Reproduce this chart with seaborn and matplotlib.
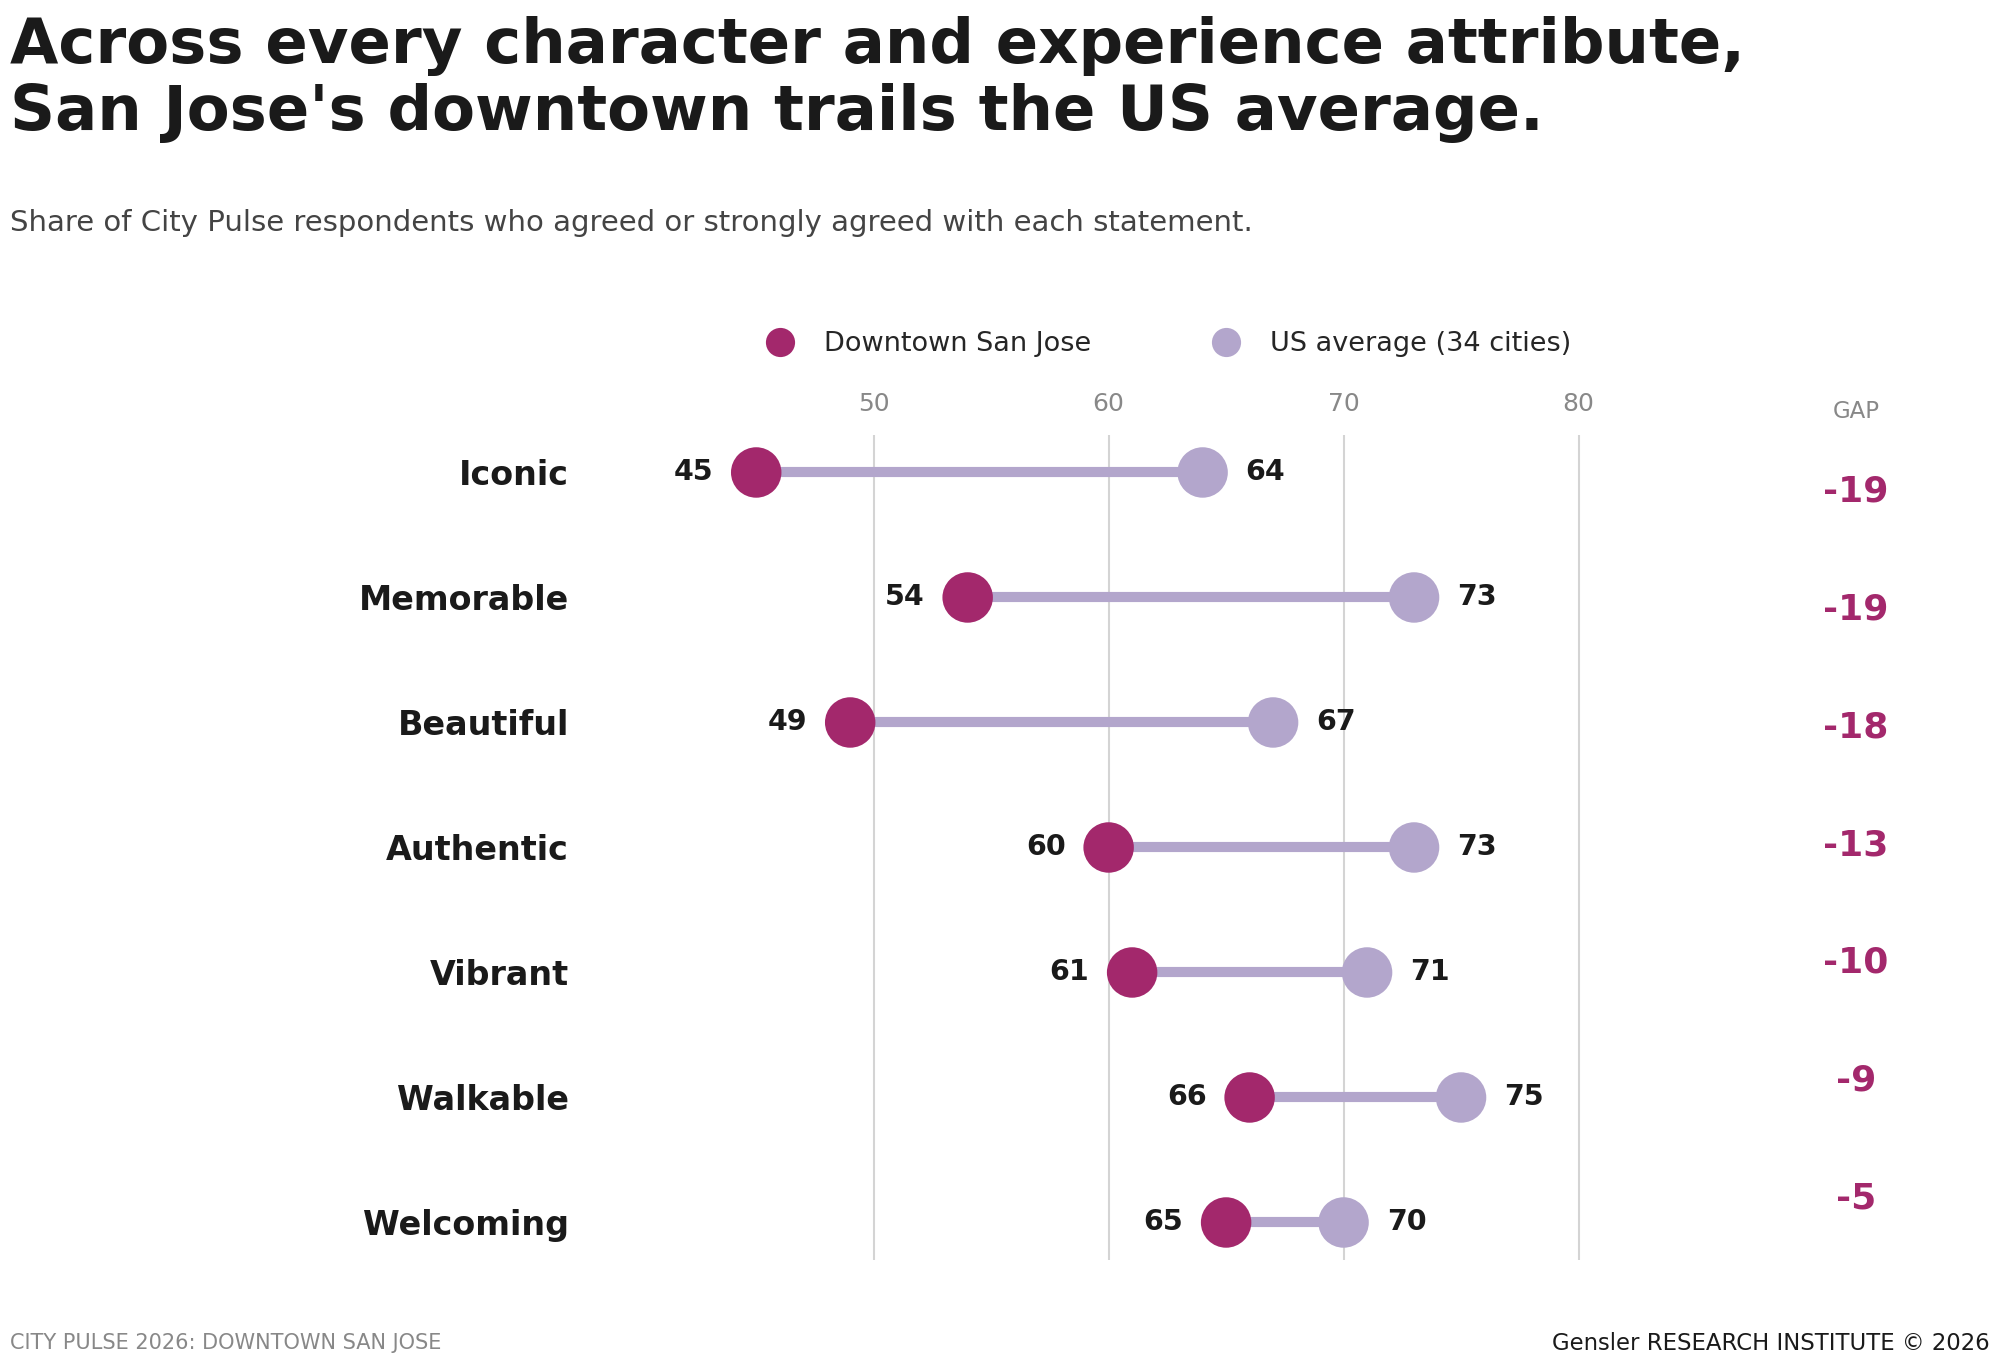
import pandas as pd
import matplotlib.pyplot as plt
import matplotlib.transforms as mtransforms
import seaborn as sns

# data
attributes = ["Iconic", "Memorable", "Beautiful", "Authentic", "Vibrant", "Walkable", "Welcoming"]
downtown = [45, 54, 49, 60, 61, 66, 65]
us_avg = [64, 73, 67, 73, 71, 75, 70]
x_ticks = [50, 60, 70, 80]
gaps = [d - u for d, u in zip(downtown, us_avg)]

MAGENTA = "#A3286C"
LAVENDER = "#B3A6CC"

sns.set_theme(style="white")
plt.rcParams["font.family"] = ["DejaVu Sans"]

df = pd.DataFrame({
    "attribute": attributes * 2,
    "value": downtown + us_avg,
    "group": ["Downtown San Jose"] * len(attributes) + ["US average (34 cities)"] * len(attributes),
})
df["row"] = df["attribute"].map({a: i for i, a in enumerate(attributes)})

fig = plt.figure(figsize=(20, 13.7), dpi=100)
ax = fig.add_axes([0.29, 0.0803, 0.558, 0.6022])

# connecting bars
ax.hlines(range(len(attributes)), downtown, us_avg, color=LAVENDER, linewidth=7.3, zorder=2)

sns.scatterplot(data=df, x="value", y="row", hue="group",
                palette=[MAGENTA, LAVENDER], s=1320, linewidth=0,
                ax=ax, zorder=3, legend=False)

for i, (d, u) in enumerate(zip(downtown, us_avg)):
    ax.annotate(str(d), (d, i), xytext=(-31, 0), textcoords="offset points",
                ha="right", va="center", fontsize=20.5, fontweight="bold", color="#1a1a1a")
    ax.annotate(str(u), (u, i), xytext=(31, 0), textcoords="offset points",
                ha="left", va="center", fontsize=20.5, fontweight="bold", color="#1a1a1a")

ax.set_xlim(37.5, 85)
ax.set_ylim(6.3, -0.3)
ax.set_xticks(x_ticks)
ax.xaxis.tick_top()
ax.tick_params(axis="x", length=0, pad=14, labelsize=18, labelcolor="#888888")
ax.set_yticks(range(len(attributes)))
ax.set_yticklabels(attributes, fontsize=24, fontweight="bold", color="#1a1a1a")
ax.tick_params(axis="y", length=0, pad=8)
ax.grid(axis="x", color="#d4d4d4", linewidth=1.5)
ax.grid(axis="y", visible=False)
ax.set_axisbelow(True)
ax.set_xlabel("")
ax.set_ylabel("")
sns.despine(ax=ax, left=True, bottom=True, top=True, right=True)

# gap column (x in figure coords, y in axes coords)
gap_trans = mtransforms.blended_transform_factory(fig.transFigure, ax.transAxes)
fig.text(0.928, 1 - 411 / 1370, "GAP", ha="center", va="center", fontsize=16.5, color="#888888")
for i, g in enumerate(gaps):
    ax.text(0.928, 0.932 - i * 0.143, str(g), transform=gap_trans,
            ha="center", va="center", fontsize=26, fontweight="bold", color=MAGENTA)

# legend
handles = [plt.Line2D([], [], marker="o", linestyle="", markersize=21, color=c, markeredgewidth=0)
           for c in [MAGENTA, LAVENDER]]
fig.legend(handles, ["Downtown San Jose", "US average (34 cities)"], ncol=2, frameon=False,
           loc="center", bbox_to_anchor=(0.581, 1 - 344 / 1370), fontsize=19.5,
           handletextpad=0.6, columnspacing=4.0)

# titles
fig.text(0.005, 1 - 16 / 1370, "Across every character and experience attribute,\nSan Jose's downtown trails the US average.",
         ha="left", va="top", fontsize=45, fontweight="bold", color="#1a1a1a", linespacing=1.15)
fig.text(0.005, 1 - 223 / 1370, "Share of City Pulse respondents who agreed or strongly agreed with each statement.",
         ha="left", va="center", fontsize=21, color="#444444")

# footer
fig.text(0.005, 1 - 1343 / 1370, "CITY PULSE 2026: DOWNTOWN SAN JOSE", ha="left", va="center",
         fontsize=15, color="#888888")
fig.text(0.995, 1 - 1343 / 1370, "Gensler RESEARCH INSTITUTE © 2026", ha="right", va="center",
         fontsize=16.4, color="#1a1a1a")

fig.savefig("out.png", dpi=100)
